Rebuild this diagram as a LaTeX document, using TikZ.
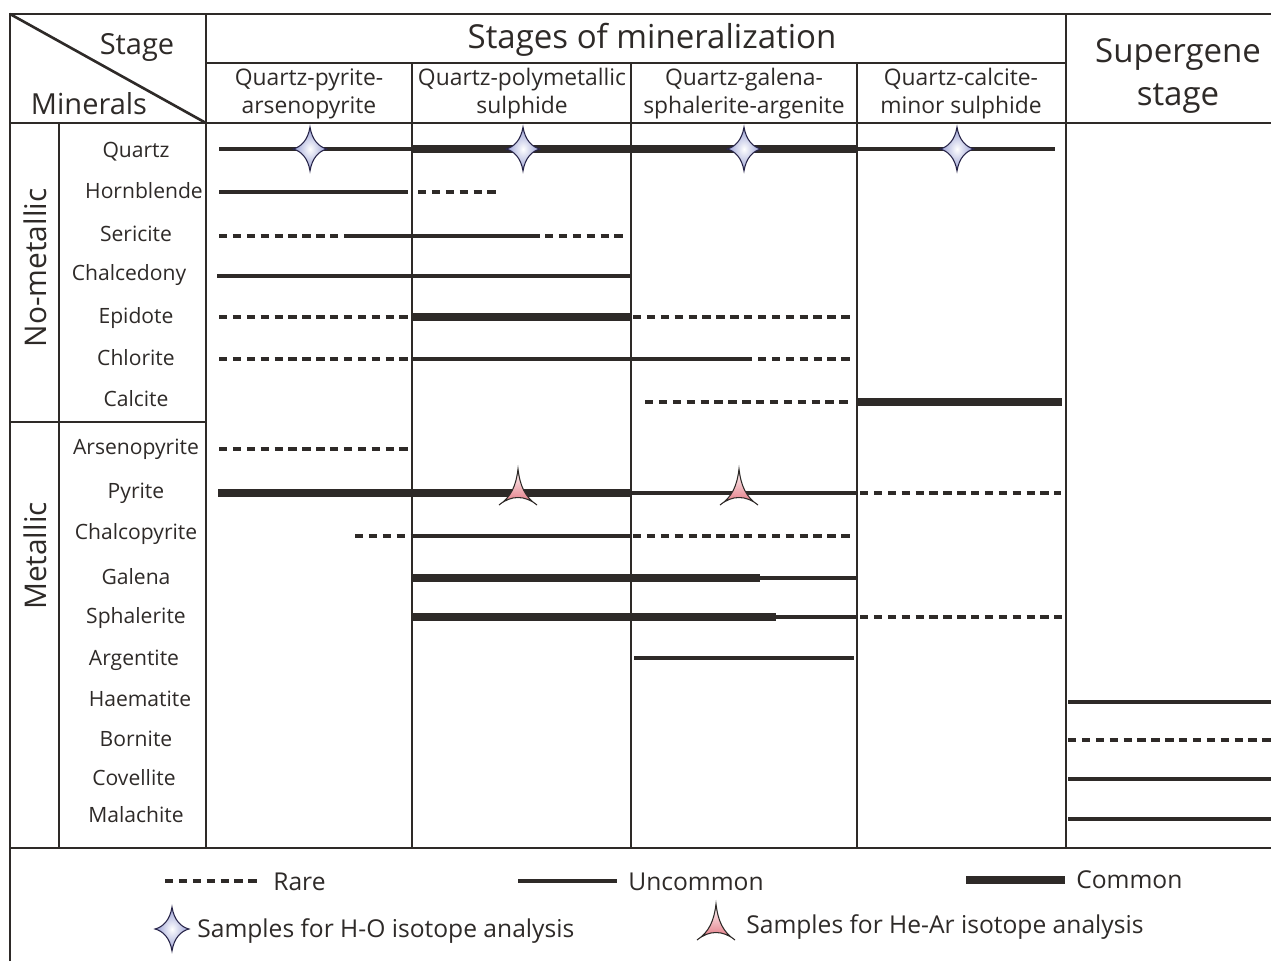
\documentclass[tikz,border=0pt]{standalone}
\usepackage{fontspec}
\setmainfont{Open Sans}
\definecolor{ink}{HTML}{2E2A28}
\definecolor{starblue}{HTML}{949BD2}
\definecolor{tentred}{HTML}{E2707C}
\begin{document}
\begin{tikzpicture}[x=0.02cm,y=-0.02cm,
    grid/.style={ink, line width=1.5pt},
    rarebar/.style={ink, line width=2.3pt, dash pattern=on 4.8pt off 3.1pt},
    uncbar/.style={ink, line width=2pt},
    combar/.style={ink, line width=5.1pt},
    minlabel/.style={text=ink, font=\fontsize{12}{14}\selectfont, text height=.75em, text depth=.25em, inner sep=0pt},
    headlabel/.style={text=ink, align=center, inner sep=0pt},
    hostar/.pic={\draw[ink!85!blue, line width=0.6pt, inner color=white, outer color=starblue]
        (0,-22) .. controls (2,-9) and (9,-2) .. (17,0) .. controls (9,2) and (2,9) .. (0,22)
        .. controls (-2,9) and (-9,2) .. (-17,0) .. controls (-9,-2) and (-2,-9) .. cycle;},
    hearsign/.pic={\draw[ink, line width=0.6pt, top color=white, bottom color=tentred]
        (0,-23) .. controls (2,-6) and (7,5) .. (19,13) .. controls (7,3) and (-7,3) .. (-19,13)
        .. controls (-7,5) and (-2,-6) .. cycle;}]
    \useasboundingbox (0,0) rectangle (1271,961);

    \draw[grid] (10,961) -- (10,14) -- (1271,14);
    \draw[grid] (10,123) -- (1271,123);
    \draw[grid] (10,848) -- (1271,848);
    \draw[grid] (206,63) -- (1066,63);
    \draw[grid] (10,14) -- (206,123);
    \draw[grid] (206,14) -- (206,848);
    \draw[grid] (412,63) -- (412,848);
    \draw[grid] (631,63) -- (631,848);
    \draw[grid] (857,63) -- (857,848);
    \draw[grid] (1066,14) -- (1066,848);
    \draw[grid] (59,123) -- (59,848);
    \draw[grid] (10,422) -- (206,422);

    \node[headlabel, font=\fontsize{16.5}{20}\selectfont] (stage) at (137,47) {Stage};
    \node[headlabel, font=\fontsize{16.5}{20}\selectfont] (minerals) at (89,104) {Minerals};
    \node[headlabel, font=\fontsize{18.8}{22}\selectfont] (stages) at (652,40) {Stages of mineralization};
    \node[headlabel, font=\fontsize{13}{16}\selectfont] (s1) at (309,94) {Quartz-pyrite-\\arsenopyrite};
    \node[headlabel, font=\fontsize{13}{16}\selectfont] (s2) at (522,94) {Quartz-polymetallic\\sulphide};
    \node[headlabel, font=\fontsize{13}{16}\selectfont] (s3) at (744,94) {Quartz-galena-\\sphalerite-argenite};
    \node[headlabel, font=\fontsize{13}{16}\selectfont] (s4) at (961,94) {Quartz-calcite-\\minor sulphide};
    \node[headlabel, font=\fontsize{18.8}{25}\selectfont] (super) at (1178,76) {Supergene\\stage};
    \node[headlabel, font=\fontsize{17}{20}\selectfont, rotate=90] (nometal) at (35,268) {No-metallic};
    \node[headlabel, font=\fontsize{17}{20}\selectfont, rotate=90] (metal) at (35,556) {Metallic};

    \foreach \name/\x/\y in {Quartz/136/153, Hornblende/144/194, Sericite/136/237, Chalcedony/129/276,
        Epidote/136/319, Chlorite/136/361, Calcite/136/402, Arsenopyrite/136/450, Pyrite/136/494,
        Chalcopyrite/136/535, Galena/136/580, Sphalerite/136/619, Argentite/134/661, Haematite/140/702,
        Bornite/136/742, Covellite/134/781, Malachite/136/818}
        \node[minlabel] (\name) at (\x,\y) {\name};

    \draw[uncbar] (219,149) -- (412,149);
    \draw[combar] (412,149) -- (857,149);
    \draw[uncbar] (857,149) -- (1055,149);
    \draw[uncbar] (219,192) -- (408,192);
    \draw[rarebar] (418,192) -- (498,192);
    \draw[rarebar] (219,236) -- (346,236);
    \draw[uncbar] (346,236) -- (540,236);
    \draw[rarebar] (545,236) -- (627,236);
    \draw[uncbar] (217,276) -- (630,276);
    \draw[rarebar] (219,317) -- (410,317);
    \draw[combar] (412,317) -- (631,317);
    \draw[rarebar] (633,317) -- (853,317);
    \draw[rarebar] (219,359) -- (410,359);
    \draw[uncbar] (412,359) -- (752,359);
    \draw[rarebar] (758,359) -- (853,359);
    \draw[rarebar] (645,402) -- (852,402);
    \draw[combar] (857,402) -- (1062,402);
    \draw[rarebar] (219,449) -- (410,449);
    \draw[combar] (218,493) -- (631,493);
    \draw[uncbar] (631,493) -- (857,493);
    \draw[rarebar] (860,493) -- (1061,493);
    \draw[rarebar] (355,536) -- (412,536);
    \draw[uncbar] (412,536) -- (631,536);
    \draw[rarebar] (633,536) -- (850,536);
    \draw[combar] (412,578) -- (760,578);
    \draw[uncbar] (760,578) -- (857,578);
    \draw[combar] (412,617) -- (776,617);
    \draw[uncbar] (776,617) -- (857,617);
    \draw[rarebar] (860,617) -- (1062,617);
    \draw[uncbar] (634,658) -- (854,658);
    \draw[uncbar] (1068,702) -- (1271,702);
    \draw[rarebar] (1068,740) -- (1271,740);
    \draw[uncbar] (1068,779) -- (1271,779);
    \draw[uncbar] (1068,819) -- (1271,819);

    \pic at (310,149) {hostar};
    \pic at (523,149) {hostar};
    \pic at (744,149) {hostar};
    \pic at (957,149) {hostar};
    \pic at (518,492) {hearsign};
    \pic at (739,492) {hearsign};

    \draw[rarebar] (165,881) -- (262,881);
    \node[headlabel, font=\fontsize{14}{17}\selectfont, anchor=west] (rare) at (273,882) {Rare};
    \draw[uncbar] (518,881) -- (617,881);
    \node[headlabel, font=\fontsize{14}{17}\selectfont, anchor=west] (uncommon) at (628,882) {Uncommon};
    \draw[combar] (966,880) -- (1065,880);
    \node[headlabel, font=\fontsize{14}{17}\selectfont, anchor=west] (common) at (1076,880) {Common};
    \pic at (172,929) {hostar};
    \node[headlabel, font=\fontsize{14}{17}\selectfont, anchor=west] (holegend) at (197,931) {Samples for H-O isotope analysis};
    \pic at (716,927) {hearsign};
    \node[headlabel, font=\fontsize{14}{17}\selectfont, anchor=west] (hearlegend) at (746,927) {Samples for He-Ar isotope analysis};
\end{tikzpicture}
\end{document}
